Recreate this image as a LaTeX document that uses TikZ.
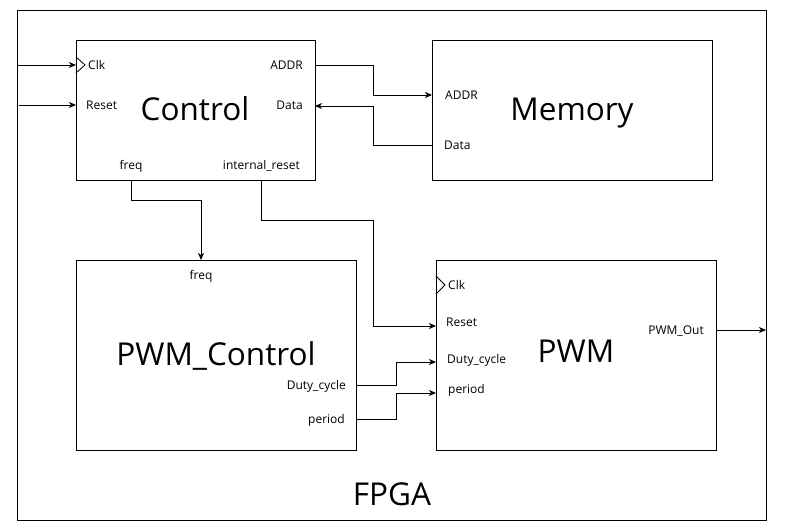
\documentclass[tikz,border=0pt]{standalone}
\usepackage{fontspec}
\setmainfont{Open Sans}
\usetikzlibrary{arrows.meta}
\begin{document}
\begin{tikzpicture}[x=1pt,y=-1pt,
  blk/.style={draw, line width=1pt, inner sep=0pt, outer sep=0pt, anchor=north west},
  port/.style={font=\fontsize{12}{14}\selectfont, inner sep=0pt, text height=8.6pt, text depth=3pt, yshift=-1.8pt},
  big/.style={font=\fontsize{31.5}{36}\selectfont, inner sep=0pt, text height=22.5pt, text depth=7pt},
  wire/.style={line width=0.9pt, -{Stealth[length=7pt,width=6pt,inset=2pt]}},
  clkmark/.style={line width=0.8pt}
]
\useasboundingbox (0,0) rectangle (785,531);
% boxes
\node[blk, minimum width=749pt, minimum height=510pt] (fpga) at (17,10) {};
\node[blk, minimum width=239pt, minimum height=140pt] (ctrl) at (76,40) {};
\node[blk, minimum width=280pt, minimum height=140pt] (mem) at (432,40) {};
\node[blk, minimum width=280pt, minimum height=190pt] (pwmc) at (76,260) {};
\node[blk, minimum width=280pt, minimum height=190pt] (pwm) at (436,260) {};
% big labels
\node[big] (tctrl) at (195,113) {Control};
\node[big] (tmem) at (572,113) {Memory};
\node[big] (tpwmc) at (216,358) {PWM\_Control};
\node[big] (tpwm) at (576,355) {PWM};
\node[big] (tfpga) at (392,498) {FPGA};
% control ports
\node[port, anchor=west] (cclk) at (88,65) {Clk};
\node[port, anchor=west] (creset) at (86,105) {Reset};
\node[port, anchor=east] (caddr) at (303,65) {ADDR};
\node[port, anchor=east] (cdata) at (303,105) {Data};
\node[port] (cfreq) at (131,165) {freq};
\node[port, anchor=east] (cirst) at (300,165) {internal\_reset};
% memory ports
\node[port, anchor=west] (maddr) at (445,95) {ADDR};
\node[port, anchor=west] (mdata) at (444,145) {Data};
% pwm control ports
\node[port] (pcfreq) at (201,275) {freq};
\node[port, anchor=east] (pcduty) at (346,385) {Duty\_cycle};
\node[port, anchor=east] (pcper) at (345,419) {period};
% pwm ports
\node[port, anchor=west] (pclk) at (448,285) {Clk};
\node[port, anchor=west] (preset) at (446,322) {Reset};
\node[port, anchor=west] (pduty) at (447,359) {Duty\_cycle};
\node[port, anchor=west] (pper) at (448,389) {period};
\node[port, anchor=east] (pout) at (704,330) {PWM\_Out};
% clock marks
\draw[clkmark] (76,57) -- (85,65) -- (76,73);
\draw[clkmark] (436,276) -- (445,285) -- (436,294);
% coordinates
\coordinate (in1) at (17,65);
\coordinate (in2) at (19,105);
\coordinate (ca) at (315,65);
\coordinate (cd) at (315,106);
\coordinate (ma) at (432,95);
\coordinate (md) at (432,145);
\coordinate (cf) at (131,180);
\coordinate (ci) at (261,180);
\coordinate (pcf) at (201,260);
\coordinate (pr) at (436,326);
\coordinate (pcd) at (356,385);
\coordinate (pcp) at (356,419);
\coordinate (pd) at (436,362);
\coordinate (pp) at (436,393);
\coordinate (po) at (716,330);
\coordinate (out) at (766,330);
% connectors
\draw[wire] (in1) -- (in1 -| ctrl.west);
\draw[wire] (in2) -- (in2 -| ctrl.west);
\draw[wire] (ca) -- (373,65) -- (373,95) -- (ma);
\draw[wire] (md) -- (373,145) -- (373,106) -- (cd);
\draw[wire] (cf) -- (131,200) -- (201,200) -- (pcf);
\draw[wire] (ci) -- (261,220) -- (373,220) -- (373,326) -- (pr);
\draw[wire] (pcd) -- (396,385) -- (396,362) -- (pd);
\draw[wire] (pcp) -- (396,419) -- (396,393) -- (pp);
\draw[wire] (po) -- (out);
\end{tikzpicture}
\end{document}
